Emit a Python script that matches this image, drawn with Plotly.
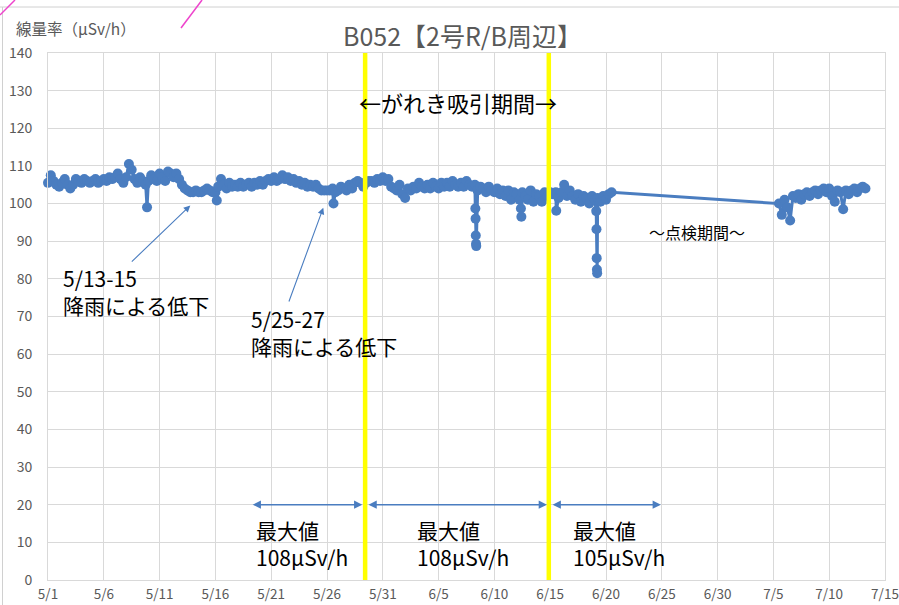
import pandas as pd
import plotly.graph_objects as go

# ---------------- data ----------------
seg1_start = "2019-05-01 00:00"   # readings every 6 h
seg1_values = [
    105.5, 107.5, 106.0, 105.0,   # 5/1
    104.5, 105.5, 106.5, 105.0,   # 5/2
    104.0, 105.0, 106.5, 106.0,   # 5/3
    105.5, 106.5, 106.0, 105.5,   # 5/4
    106.0, 106.5, 105.5, 106.0,   # 5/5
    106.5, 106.0, 107.0, 106.5,   # 5/6
    107.0, 108.0, 106.5, 105.5,   # 5/7
    107.0, 110.5, 109.0, 106.5,   # 5/8
    105.5, 107.0, 106.0, 105.0,   # 5/9
    106.0, 107.5, 106.5, 106.0,   # 5/10
    108.0, 107.0, 106.0, 108.5,   # 5/11
    108.0, 107.0, 108.0, 106.5,   # 5/12
    105.0, 104.0, 103.5, 103.0,   # 5/13
    103.0, 103.5, 103.0, 103.0,   # 5/14
    103.5, 104.0, 103.5, 103.0,   # 5/15
    103.0, 104.5, 106.5, 105.0,   # 5/16
    104.0, 105.5, 104.5, 105.0,   # 5/17
    104.5, 105.5, 104.5, 105.0,   # 5/18
    105.5, 104.5, 105.5, 105.0,   # 5/19
    106.0, 105.0, 106.0, 106.5,   # 5/20
    106.0, 107.0, 106.0, 106.5,   # 5/21
    107.5, 106.5, 107.0, 106.0,   # 5/22
    106.5, 105.5, 106.0, 105.0,   # 5/23
    105.5, 104.5, 105.0, 104.5,   # 5/24
    105.0, 104.0, 103.5, 103.5,   # 5/25
    103.5, 103.5, 104.0, 103.0,   # 5/26
    103.5, 104.5, 104.0, 103.5,   # 5/27
    105.0, 104.0, 105.5, 106.0,   # 5/28
    105.5, 104.5, 105.5, 106.0,   # 5/29
    106.0, 105.5, 106.5, 106.0,   # 5/30
    107.0, 106.0, 106.5, 104.5,   # 5/31
    104.0, 103.5, 105.0, 102.5,   # 6/1
    101.5, 104.0, 103.5, 104.5,   # 6/2
    104.0, 105.5, 104.5, 104.0,   # 6/3
    105.0, 104.0, 105.5, 104.5,   # 6/4
    104.0, 105.5, 104.5, 105.5,   # 6/5
    104.5, 106.0, 105.0, 104.5,   # 6/6
    105.5, 104.5, 106.0, 105.0,   # 6/7
    104.5, 105.0, 103.5, 104.5,   # 6/8
    104.0, 103.0, 104.5, 103.5,   # 6/9
    103.0, 104.0, 102.5, 103.5,   # 6/10
    102.0, 103.5, 101.0, 103.0,   # 6/11
    102.5, 101.0, 103.0, 102.0,   # 6/12
    101.0, 103.5, 100.5, 102.5,   # 6/13
    102.0, 100.5, 103.0, 102.0,   # 6/14
    103.0, 102.5, 103.0, 101.5,   # 6/15
    103.0, 105.0, 102.0, 103.5,   # 6/16
    102.0, 101.0, 102.5, 100.5,   # 6/17
    102.0, 101.5, 100.0, 102.0,   # 6/18
    101.0, 101.5, 100.5, 102.0,   # 6/19
    101.0, 102.5, 103.0,          # 6/20
]

seg2_start = "2019-07-05 12:00"   # readings every 6 h after inspection
seg2_values = [
    100.0, 97.0,                  # 7/5
    101.0, 99.0, 95.5, 102.0,     # 7/6
    101.5, 102.5, 101.0, 102.5,   # 7/7
    103.0, 102.0, 103.0, 103.5,   # 7/8
    102.5, 103.5, 104.0, 103.0,   # 7/9
    104.0, 102.0, 100.5, 103.5,   # 7/10
    103.0, 98.5, 103.5, 102.5,    # 7/11
    103.5, 104.0, 103.0, 104.0,   # 7/12
    104.5, 104.0,                 # 7/13
]

# short drops (hourly readings)
drop_times = [
    "2019-05-09 21:00", "2019-05-16 03:00", "2019-05-26 14:00",
    "2019-06-08 07:00", "2019-06-08 07:30", "2019-06-08 08:00", "2019-06-08 08:30", "2019-06-08 09:00",
    "2019-06-12 09:00", "2019-06-12 10:00",
    "2019-06-15 13:00",
    "2019-06-19 03:00", "2019-06-19 03:30", "2019-06-19 04:00", "2019-06-19 04:30", "2019-06-19 05:00",
]
drop_values = [
    99.0, 100.8, 100.0,
    98.7, 96.0, 91.5, 89.3, 88.7,
    98.7, 96.5,
    98.1,
    98.0, 93.2, 85.5, 82.5, 81.5,
]

tick_dates = ["2019-05-01", "2019-05-06", "2019-05-11", "2019-05-16", "2019-05-21", "2019-05-26",
              "2019-05-31", "2019-06-05", "2019-06-10", "2019-06-15", "2019-06-20", "2019-06-25",
              "2019-06-30", "2019-07-05", "2019-07-10", "2019-07-15"]
tick_labels = ["5/1", "5/6", "5/11", "5/16", "5/21", "5/26", "5/31", "6/5", "6/10", "6/15",
               "6/20", "6/25", "6/30", "7/5", "7/10", "7/15"]

period_bounds = ["2019-05-29 10:00", "2019-06-14 21:00"]

# ---------------- build series ----------------
t1 = pd.date_range(seg1_start, periods=len(seg1_values), freq="6h")
t2 = pd.date_range(seg2_start, periods=len(seg2_values), freq="6h")
df = pd.concat([
    pd.DataFrame({"t": t1, "v": seg1_values}),
    pd.DataFrame({"t": pd.to_datetime(drop_times), "v": drop_values}),
    pd.DataFrame({"t": t2, "v": seg2_values}),
]).sort_values("t")

BLUE = "#4a7dc0"
GRAY = "#595959"
GRID = "#d9d9d9"
FONT = "Noto Sans CJK JP"

fig = go.Figure()
fig.add_trace(go.Scatter(
    x=df["t"], y=df["v"], mode="lines+markers",
    line=dict(color=BLUE, width=3),
    marker=dict(color=BLUE, size=10),
    cliponaxis=False, showlegend=False,
))

L, R, T, B = 48, 14, 53, 25
W, H = 899, 605
pw, ph = W - L - R, H - T - B


def px(xp):
    return (xp - L) / pw


def py(yp):
    return (H - B - yp) / ph


shapes = []
for b in period_bounds:
    shapes.append(dict(type="line", xref="x", yref="paper", x0=b, x1=b, y0=0, y1=1,
                       line=dict(color="#ffff00", width=4.5), layer="above"))
# outer frame of the original picture
shapes.append(dict(type="line", xref="paper", yref="paper", x0=px(0), x1=px(W), y0=py(7), y1=py(7),
                   line=dict(color="#d0d0d0", width=1)))
shapes.append(dict(type="line", xref="paper", yref="paper", x0=px(2.5), x1=px(2.5), y0=py(7), y1=py(H),
                   line=dict(color="#d0d0d0", width=1)))
# stray pink strokes
shapes.append(dict(type="line", xref="paper", yref="paper", x0=px(0), x1=px(15), y0=py(15), y1=py(0),
                   line=dict(color="#ee44cc", width=1.5)))
shapes.append(dict(type="line", xref="paper", yref="paper", x0=px(181), x1=px(202), y0=py(28), y1=py(0),
                   line=dict(color="#ee44cc", width=1.5)))

ann = []


def text(t, xp, yp, size, color="black", xanchor="center", align="center"):
    ann.append(dict(text=t, xref="paper", yref="paper", x=px(xp), y=py(yp),
                    xanchor=xanchor, yanchor="middle", align=align, showarrow=False,
                    font=dict(size=size, color=color, family=FONT)))


text("B052【2号R/B周辺】", 462, 35, 25, GRAY)
text("線量率（μSv/h）", 14, 28, 15.5, GRAY, xanchor="left")
text("←がれき吸引期間→", 458, 102, 22)
text("～点検期間～", 697, 232, 16)
for xl, yc, t in [(61, 291, "5/13-15<br>降雨による低下"), (249, 332, "5/25-27<br>降雨による低下")]:
    text(t, xl, yc, 21, xanchor="left", align="left")
for xl, t in [(254, "最大値<br>108μSv/h"), (415, "最大値<br>108μSv/h"), (571, "最大値<br>105μSv/h")]:
    text(t, xl, 543, 21, xanchor="left", align="left")

# double arrows for max-value periods
for a0, a1 in [("2019-05-19 05:00", "2019-05-29 04:00"),
               ("2019-05-29 14:00", "2019-06-14 17:00"),
               ("2019-06-15 02:00", "2019-06-24 22:00")]:
    ann.append(dict(text="", x=a1, y=20, ax=a0, ay=20, xref="x", yref="y", axref="x", ayref="y",
                    showarrow=True, arrowside="end+start", arrowhead=2, startarrowhead=2,
                    arrowsize=1.1, startarrowsize=1.1, arrowwidth=1.5, arrowcolor=BLUE,
                    standoff=0, startstandoff=0))
# pointer arrows for rain drops
for hx, hy, tx, ty in [("2019-05-13 18:00", 99.5, "2019-05-08 09:00", 84.2),
                       ("2019-05-25 16:00", 98.9, "2019-05-22 13:00", 73.6)]:
    ann.append(dict(text="", x=hx, y=hy, ax=tx, ay=ty, xref="x", yref="y", axref="x", ayref="y",
                    showarrow=True, arrowhead=2, arrowsize=1.2, arrowwidth=1.1, arrowcolor=BLUE,
                    standoff=0))

fig.update_layout(
    width=W, height=H,
    margin=dict(l=L, r=R, t=T, b=B, autoexpand=False),
    paper_bgcolor="white", plot_bgcolor="white",
    font=dict(family=FONT, color=GRAY),
    shapes=shapes, annotations=ann,
    xaxis=dict(type="date", range=["2019-05-01", "2019-07-15"], tickvals=tick_dates, ticktext=tick_labels,
               automargin=False,
               showgrid=True, gridcolor=GRID, gridwidth=1, zeroline=False,
               showline=True, linecolor=GRID, mirror=True,
               ticks="outside", ticklen=2, tickcolor="rgba(0,0,0,0)",
               tickfont=dict(size=13.5, color=GRAY, family=FONT)),
    yaxis=dict(range=[0, 140], dtick=10, tick0=0, automargin=False,
               showgrid=True, gridcolor=GRID, gridwidth=1, zeroline=False,
               showline=True, linecolor=GRID, mirror=True,
               ticks="outside", ticklen=12, tickcolor="rgba(0,0,0,0)",
               tickfont=dict(size=14, color=GRAY, family=FONT)),
)

fig.write_html("out.html", config={"displayModeBar": False},
               post_script="document.body.style.margin='0';")
